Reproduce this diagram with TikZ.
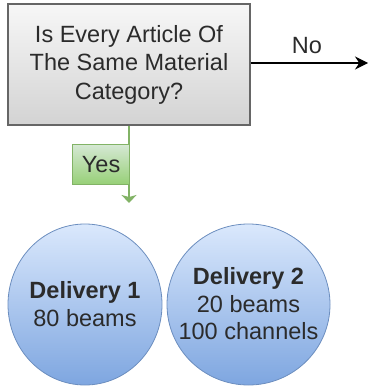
\documentclass[tikz,border=0pt]{standalone}
\usepackage{fontspec}
\setmainfont{Liberation Sans}
\usetikzlibrary{shapes.geometric,arrows.meta}
\definecolor{boxborder}{HTML}{666666}
\definecolor{boxtop}{HTML}{F7F7F7}
\definecolor{boxbot}{HTML}{D3D3D3}
\definecolor{bluetop}{HTML}{DAE8FC}
\definecolor{bluebot}{HTML}{7EA6E0}
\definecolor{blueborder}{HTML}{6C8EBF}
\definecolor{greentop}{HTML}{D5E8D4}
\definecolor{greenbot}{HTML}{97D077}
\definecolor{greenborder}{HTML}{82B366}
\definecolor{txt}{HTML}{2B2B2B}
\tikzset{
  x=1pt, y=1pt,
  question/.style={draw=boxborder, line width=1.2pt, rectangle, minimum width=242pt, minimum height=121pt,
    top color=boxtop, bottom color=boxbot, align=center, text=txt,
    font=\fontsize{23.5}{28.5}\selectfont},
  bubble/.style={draw=blueborder, line width=0.8pt, top color=bluetop, bottom color=bluebot},
  deliverytext/.style={align=center, text=txt, inner sep=0pt, font=\fontsize{23.5}{27.5}\selectfont},
  yeslabel/.style={draw=greenborder, line width=0.8pt, rectangle, minimum width=57pt, minimum height=40pt,
    top color=greentop, bottom color=greenbot, text=txt, font=\fontsize{23.5}{27}\selectfont},
  nolabel/.style={text=txt, font=\fontsize{23.5}{27}\selectfont},
}
\begin{document}
\begin{tikzpicture}
\useasboundingbox (0,0) rectangle (368,-387);
\node[question] (q) at (129,-64.5) {Is Every Article Of\\The Same Material\\Category?};
\coordinate (noend) at (368,-63);
\draw[line width=1.2pt, -{Stealth[length=13pt, width=13pt]}] (q.east |- noend) -- (noend);
\node[nolabel] (no) at (307,-46) {No};
\coordinate (yesend) at (129,-203);
\draw[greenborder, line width=1.6pt, -{Stealth[length=8pt, width=15pt, inset=2pt]}] (q.south -| yesend) -- (yesend);
\node[yeslabel, anchor=north east] (yes) at (130,-144) {Yes};
\path[bubble] (85,-304.5) ellipse [x radius=77, y radius=80.5];
\path[bubble] (248.5,-304.5) ellipse [x radius=81.5, y radius=80.5];
\node[deliverytext] (d1) at (85,-304) {\textbf{Delivery 1}\\80 beams};
\node[deliverytext] (d2) at (248.5,-304) {\textbf{Delivery 2}\\20 beams\\100 channels};
\end{tikzpicture}
\end{document}
